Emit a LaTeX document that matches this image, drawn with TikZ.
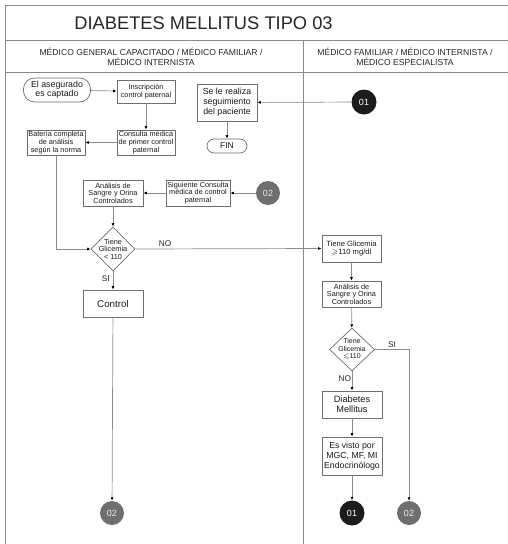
\documentclass[tikz,border=0pt]{standalone}
\usepackage{amssymb}
\usepackage{fontspec}
\setmainfont{Liberation Sans}
\usetikzlibrary{shapes.geometric,arrows.meta}
\definecolor{lineg}{HTML}{8A8A8A}
\definecolor{boxg}{HTML}{6E6E6E}
\definecolor{darkc}{HTML}{1C1C1C}
\definecolor{grayc}{HTML}{6F6F6F}
\tikzset{
  frame/.style={draw=lineg, line width=0.9pt},
  box/.style={draw=boxg, line width=0.7pt, fill=white, align=center, inner sep=0pt, font=\fontsize{7.3}{7.6}\selectfont, text=black!90},
  term/.style={box, rounded corners=7pt},
  dia/.style={draw=boxg, line width=0.7pt, fill=white, diamond, align=center, inner sep=-6pt, minimum width=44pt, minimum height=44pt, font=\fontsize{7.3}{7.6}\selectfont, text=black!90},
  con01/.style={circle, fill=darkc, minimum size=25pt, inner sep=0pt, text=white, font=\fontsize{9}{10}\selectfont},
  con02/.style={circle, fill=grayc, minimum size=24pt, inner sep=0pt, text=white!85!gray, font=\fontsize{9}{10}\selectfont},
  flow/.style={draw=lineg, line width=0.7pt, -{Latex[length=3.5pt,width=3pt,black]}},
  lbl/.style={font=\fontsize{8.3}{9}\selectfont, text=black!85, inner sep=0pt},
}
\begin{document}
\begin{tikzpicture}[x=1pt,y=-1pt]
\useasboundingbox (0,0) rectangle (508,544);
% frame
\draw[frame] (508,5) -- (5.5,5) -- (5.5,544);
\draw[frame] (5.5,40) -- (508,40);
\draw[frame] (5.5,72) -- (508,72);
\draw[frame] (303,40) -- (303,544);
\node[text=black!85] (title) at (203.5,23) {\fontsize{18.3}{20}\selectfont DIABETES MELLITUS TIPO 03};
\node[align=center, font=\fontsize{8.6}{10}\selectfont, text=black!85] (h1) at (151,57) {MÉDICO GENERAL CAPACITADO / MÉDICO FAMILIAR /\\MÉDICO INTERNISTA};
\node[align=center, font=\fontsize{8.6}{10}\selectfont, text=black!85] (h2) at (405,57) {MÉDICO FAMILIAR / MÉDICO INTERNISTA /\\MÉDICO ESPECIALISTA};

% left lane nodes
\node[term, minimum width=67pt, minimum height=24pt, font=\fontsize{8.8}{9.4}\selectfont, rounded corners=11pt] (ini) at (57,90) {El asegurado\\es captado};
\node[box, minimum width=58pt, minimum height=23pt] (insc) at (146,91.5) {Inscripción\\[1pt]control paternal};
\node[box, minimum width=58pt, minimum height=25pt] (cons1) at (146,142.5) {Consulta médica\\de primer control\\paternal};
\node[box, minimum width=58pt, minimum height=25pt] (bat) at (56,142.5) {Batería completa\\de análisis\\según la norma};
\node[box, minimum width=60pt, minimum height=37pt, font=\fontsize{8.8}{10.2}\selectfont] (seg) at (227,102.5) {Se le realiza\\seguimiento\\del paciente};
\node[con01] (c01a) at (364,102) {01};
\node[term, minimum width=40pt, minimum height=14pt, font=\fontsize{8.5}{9}\selectfont] (fin) at (227,146) {FIN};
\node[box, minimum width=60pt, minimum height=26pt] (anal1) at (113,193) {Análisis de\\Sangre y Orina\\Controlados};
\node[box, minimum width=64pt, minimum height=26pt] (sig) at (198,193) {Siguiente Consulta\\médica de control\\paternal};
\node[con02] (c02a) at (268,193) {02};
\node[dia] (dia1) at (113,249) {Tiene\\Glicemia\\< 110};
\node[box, minimum width=60pt, minimum height=27pt, font=\fontsize{9.8}{11}\selectfont] (ctrl) at (113,303.5) {Control};
\node[con02] (c02b) at (112,513) {02};

% right lane nodes
\node[box, minimum width=59pt, minimum height=27pt, font=\fontsize{7.6}{8.4}\selectfont] (g110) at (351.5,248.5) {Tiene Glicemia\\{\fontsize{7.6}{8}\selectfont$\geqslant$}110 mg/dl};
\node[box, minimum width=59pt, minimum height=26pt] (anal2) at (351.5,294) {Análisis de\\Sangre y Orina\\Controlados};
\node[dia, minimum width=45pt, minimum height=43pt, font=\fontsize{7}{7.4}\selectfont] (dia2) at (352,349.5) {Tiene\\Glicemia\\{\fontsize{7}{7}\selectfont$\leqslant$}110};
\node[box, minimum width=60pt, minimum height=27pt, font=\fontsize{9.2}{10}\selectfont] (dm) at (352,404.5) {Diabetes\\Mellitus};
\node[box, minimum width=60pt, minimum height=38pt, font=\fontsize{8.7}{10}\selectfont] (visto) at (352,456) {Es visto por\\MGC, MF, MI\\Endocrinólogo};
\node[con01] (c01b) at (352,513) {01};
\node[con02] (c02c) at (409,513) {02};

% connectors
\draw[flow] (ini) -- (insc);
\draw[flow] (insc) -- (cons1);
\draw[flow] (cons1) -- (bat);
\draw[flow] (c01a) -- (seg);
\draw[flow] (seg) -- (fin);
\draw[flow] (c02a) -- (sig);
\draw[flow] (sig) -- (anal1);
\draw[flow] (anal1) -- (dia1);
\draw[flow] (bat.south) |- (dia1.west);
\draw[flow] (dia1.east) -- node[lbl, above, pos=0.16, yshift=2pt] (no1) {NO} (g110.west);
\draw[flow] (dia1.south) -- node[lbl, left, pos=0.4, xshift=-3pt] (si1) {SI} (ctrl.north);
\draw[flow] (ctrl) -- (c02b);
\draw[flow] (g110) -- (anal2);
\draw[flow] (anal2) -- (dia2);
\draw[flow] (dia2.south) -- node[lbl, left, pos=0.4, xshift=-0.5pt] (no2) {NO} (dm.north);
\draw[flow] (dm) -- (visto);
\draw[flow] (visto) -- (c01b);
\draw[flow] (dia2.east) -| node[lbl, above, pos=0.25, yshift=2pt] (si2) {SI} (c02c.north);
\end{tikzpicture}
\end{document}
